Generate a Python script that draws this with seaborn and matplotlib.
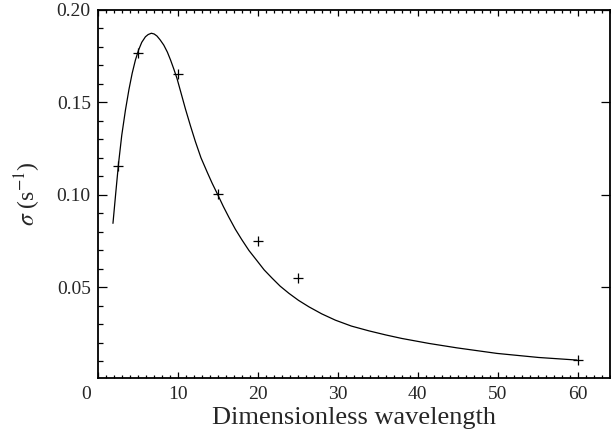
import matplotlib
matplotlib.use("Agg")
import matplotlib.pyplot as plt
import matplotlib.transforms as mtransforms
import pandas as pd
import seaborn as sns

from matplotlib.ticker import MultipleLocator

sns.set_theme(style="ticks")
plt.rcParams["font.family"] = ["Liberation Serif", "DejaVu Serif"]
plt.rcParams["mathtext.fontset"] = "stix"

# measured growth rates
wavelength = [2.5, 5.0, 10.0, 15.0, 20.0, 25.0, 60.0]
sigma = [0.1155, 0.1769, 0.1653, 0.1004, 0.0751, 0.0550, 0.0105]

# model curve
curve_x = [1.9, 2.25, 2.6, 3.0, 3.46, 3.9, 4.3, 4.7, 5.1, 5.5, 5.96, 6.3,
           6.7, 7.05, 7.4, 7.8, 8.25, 8.7, 9.1, 9.5, 9.9, 10.4, 10.96,
           11.6, 12.2, 12.9, 13.7, 14.3, 15.0, 15.7, 16.4, 17.2, 18.0,
           18.9, 19.9, 20.8, 21.8, 22.8, 23.9, 25.1, 26.4, 28.0, 29.7,
           31.7, 33.9, 36.0, 38.0, 41.4, 44.9, 49.9, 55.1, 59.9]
curve_y = [0.0845, 0.1010, 0.1170, 0.1322, 0.1458, 0.1570, 0.1657, 0.1728,
           0.1783, 0.1825, 0.1855, 0.1867, 0.1874, 0.1870, 0.1859, 0.1838,
           0.1810, 0.1772, 0.1729, 0.1681, 0.1630, 0.1552, 0.1464, 0.1371,
           0.1288, 0.1200, 0.1120, 0.1062, 0.1000, 0.0936, 0.0877, 0.0813,
           0.0757, 0.0698, 0.0643, 0.0593, 0.0548, 0.0505, 0.0466, 0.0428,
           0.0393, 0.0355, 0.0321, 0.0289, 0.0263, 0.0241, 0.0222, 0.0195,
           0.0171, 0.0141, 0.0119, 0.0105]

points = pd.DataFrame({"x": wavelength, "y": sigma})
curve = pd.DataFrame({"x": curve_x, "y": curve_y})

fig = plt.figure(figsize=(6.11, 4.45), dpi=100)
ax = fig.add_axes([0.160, 0.1506, 0.838, 0.827])

sns.lineplot(data=curve, x="x", y="y", sort=False, color="black",
             linewidth=0.9, ax=ax)
sns.scatterplot(data=points, x="x", y="y", marker="+", color="black",
                s=60, linewidth=0.9, ax=ax)

ax.set_xlim(0, 64)
ax.set_ylim(0.0008, 0.20)
ax.set_xticks([0, 10, 20, 30, 40, 50, 60])
ax.set_yticks([0.05, 0.10, 0.15, 0.20])
ax.set_yticklabels(["0.05", "0.10", "0.15", "0.20"])
ax.xaxis.set_minor_locator(MultipleLocator(1))
ax.yaxis.set_minor_locator(MultipleLocator(0.01))

for side in ax.spines.values():
    side.set_linewidth(1.3)
    side.set_color("black")

ax.tick_params(axis="both", which="both", direction="in", top=True,
               right=True, color="black", labelsize=14, width=0.9)
ax.tick_params(axis="x", which="major", length=4.5, pad=6)
ax.tick_params(axis="x", which="minor", length=2.2)
ax.tick_params(axis="y", which="major", length=6.5, pad=5)
ax.tick_params(axis="y", which="minor", length=3.6, right=False)

# the "0" sits a little left of the axis corner in the original
fig.canvas.draw()
zero = ax.get_xticklabels()[0]
zero.set_transform(zero.get_transform() +
                   mtransforms.ScaledTranslation(-0.12, 0, fig.dpi_scale_trans))

ax.set_xlabel("Dimensionless wavelength", fontsize=19, labelpad=3)
ax.set_ylabel(r"$\sigma$ (s$^{-1}$)", fontsize=17, labelpad=10)

fig.savefig("out.png", dpi=100)
